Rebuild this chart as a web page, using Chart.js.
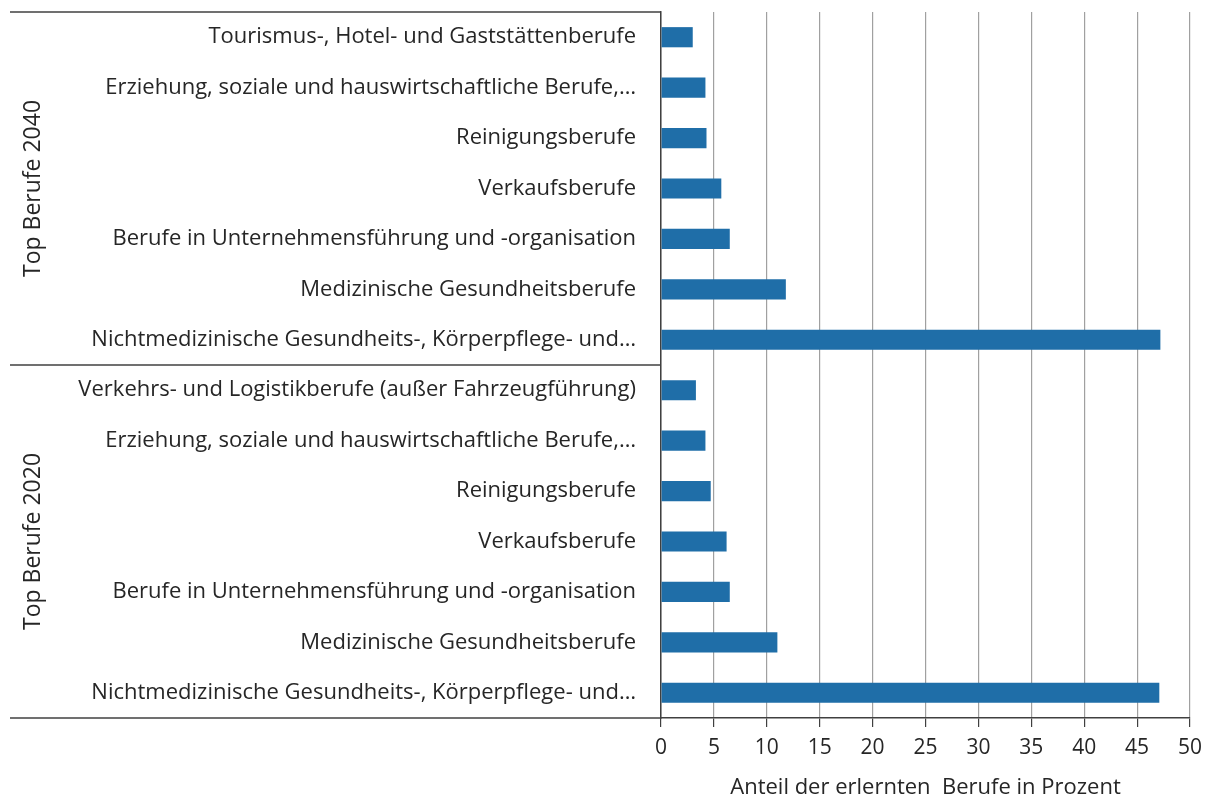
<!DOCTYPE html>
<html>
<head>
<meta charset="utf-8">
<script src="https://cdn.jsdelivr.net/npm/chart.js@4/dist/chart.umd.min.js"></script>
<style>
  html, body { margin: 0; padding: 0; background: #fff; }
  #wrap { width: 1212px; height: 801px; }
</style>
</head>
<body>
<div id="wrap"><canvas id="chart" width="1212" height="801"></canvas></div>
<script>
// Kategorien (von oben nach unten)
const berufe2040 = [
  'Tourismus-, Hotel- und Gaststättenberufe',
  'Erziehung, soziale und hauswirtschaftliche Berufe,…',
  'Reinigungsberufe',
  'Verkaufsberufe',
  'Berufe in Unternehmensführung und -organisation',
  'Medizinische Gesundheitsberufe',
  'Nichtmedizinische Gesundheits-, Körperpflege- und…'
]
const berufe2020 = [
  'Verkehrs- und Logistikberufe (außer Fahrzeugführung)',
  'Erziehung, soziale und hauswirtschaftliche Berufe,…',
  'Reinigungsberufe',
  'Verkaufsberufe',
  'Berufe in Unternehmensführung und -organisation',
  'Medizinische Gesundheitsberufe',
  'Nichtmedizinische Gesundheits-, Körperpflege- und…'
]
// Anteil in Prozent
const werte2040 = [3.0, 4.2, 4.3, 5.7, 6.5, 11.8, 47.2]
const werte2020 = [3.3, 4.2, 4.7, 6.2, 6.5, 11.0, 47.1]
const gruppen = ['Top Berufe 2040', 'Top Berufe 2020']
const xTicks = [0, 5, 10, 15, 20, 25, 30, 35, 40, 45, 50]
const xTitel = 'Anteil der erlernten  Berufe in Prozent'

const FONT = '"Open Sans"'
const TEXT = '#262626'
const LINE = '#404040'

const gruppenPlugin = {
  id: 'gruppen',
  afterDraw(chart) {
    const ctx = chart.ctx
    const y = chart.scales.y
    const area = chart.chartArea
    const n = berufe2040.length
    const mid = (y.getPixelForValue(n - 1) + y.getPixelForValue(n)) / 2
    const grenzen = [area.top, mid, area.bottom]
    ctx.save()
    ctx.strokeStyle = LINE
    ctx.lineWidth = 1.5
    grenzen.forEach(py => {
      ctx.beginPath()
      ctx.moveTo(10, py)
      ctx.lineTo(area.left, py)
      ctx.stroke()
    })
    ctx.fillStyle = TEXT
    ctx.font = '23px ' + FONT
    ctx.textAlign = 'center'
    ctx.textBaseline = 'middle'
    gruppen.forEach((g, i) => {
      const cy = (grenzen[i] + grenzen[i + 1]) / 2
      ctx.save()
      ctx.translate(33, cy)
      ctx.rotate(-Math.PI / 2)
      ctx.fillText(g, 0, 0)
      ctx.restore()
    })
    ctx.restore()
  }
}

new Chart(document.getElementById('chart'), {
  type: 'bar',
  data: {
    labels: berufe2040.concat(berufe2020),
    datasets: [{
      data: werte2040.concat(werte2020),
      backgroundColor: '#1f6ea8',
      barPercentage: 0.8,
      categoryPercentage: 0.5
    }]
  },
  options: {
    indexAxis: 'y',
    responsive: false,
    animation: false,
    layout: { padding: { top: 12, right: 22, left: 0, bottom: 0 } },
    plugins: {
      legend: { display: false },
      tooltip: { enabled: false }
    },
    scales: {
      x: {
        min: 0,
        max: 50,
        afterBuildTicks: s => { s.ticks = xTicks.map(v => ({ value: v })) },
        afterFit: s => { s.height = 801 - 718 },
        grid: {
          color: '#a0a0a0',
          lineWidth: 1.2,
          tickColor: LINE,
          tickLength: 9
        },
        border: { color: LINE, width: 1.5 },
        ticks: {
          color: TEXT,
          font: { family: FONT, size: 21 },
          padding: 8
        },
        title: {
          display: true,
          text: xTitel,
          color: TEXT,
          font: { family: FONT, size: 22 },
          padding: { top: 0, bottom: 0 }
        }
      },
      y: {
        afterFit: s => {
          s.width = 661
          s.paddingTop = 0
          s.paddingBottom = 0
        },
        grid: { display: false },
        border: { color: LINE, width: 1.5 },
        ticks: {
          color: TEXT,
          font: { family: FONT, size: 22 },
          padding: 17,
          autoSkip: false
        }
      }
    }
  },
  plugins: [gruppenPlugin]
})
</script>
</body>
</html>
